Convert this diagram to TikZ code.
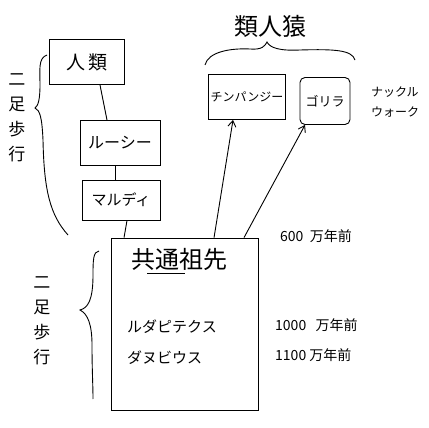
\documentclass[tikz,border=0pt]{standalone}
\usepackage{fontspec}
\setmainfont{Noto Sans CJK JP}
\usetikzlibrary{arrows.meta,calc}
\tikzset{
  box/.style={draw,line width=0.9pt,inner sep=2pt},
  link/.style={line width=0.9pt},
  arr/.style={line width=0.9pt,-{Straight Barb[length=6pt,width=8pt]}},
  brace/.style={line width=0.9pt},
  vtext/.style={align=center,font=\fontsize{17}{25}\selectfont,inner sep=0pt},
  note/.style={font=\fontsize{14}{17}\selectfont,inner sep=0pt,anchor=west}
}
\begin{document}
\begin{tikzpicture}[x=1pt,y=-1pt]
\useasboundingbox (0,0) rectangle (429,428);
% human line
\node[box,minimum width=75pt,minimum height=45pt,font=\fontsize{19}{19}\selectfont] (jinrui) at (87,62) {人\,類};
\node[box,minimum width=80pt,minimum height=45pt,font=\fontsize{16}{16}\selectfont] (lucy) at (120,143) {ルーシー};
\node[box,minimum width=78pt,minimum height=40pt,font=\fontsize{15}{15}\selectfont] (ardi) at (121,200) {マルディ};
\node[box,minimum width=147pt,minimum height=172pt] (kyotsu) at (185,324) {};
\node[inner sep=0pt,font=\fontsize{24}{24}\selectfont] (title) at (179,259) {共通祖先};
\coordinate (ulA) at (147,273);
\coordinate (ulB) at (185,273);
\draw[link] (ulA) -- (ulB);
\node[inner sep=0pt,anchor=west,font=\fontsize{15}{15}\selectfont] (ruda) at (127,327) {ルダピテクス};
\node[inner sep=0pt,anchor=west,font=\fontsize{15}{15}\selectfont] (danu) at (127,358) {ダヌビウス};
% apes
\node[inner sep=0pt,font=\fontsize{24}{24}\selectfont] (ruijinen) at (270,26) {類人猿};
\node[box,minimum width=75pt,minimum height=45pt,font=\fontsize{12}{12}\selectfont] (chimp) at (247,97) {チンパンジー};
\node[box,rounded corners=5pt,minimum width=50pt,minimum height=47pt,font=\fontsize{13}{13}\selectfont] (gorilla) at (325,101) {ゴリラ};
\node[align=left,inner sep=0pt,font=\fontsize{12}{20}\selectfont] (knuckle) at (395,102) {ナックル\\ウォーク};
% ages
\node[note] (m600) at (280,236) {600\ \ 万年前};
\node[note] (m1000) at (275,325) {1000\ \ \ 万年前};
\node[note] (m1100) at (275,355) {1100\ 万年前};
% bipedal labels
\node[vtext] (bip1) at (17,118) {二\\足\\歩\\行};
\node[vtext] (bip2) at (42,321) {二\\足\\歩\\行};
% connectors
\draw[link] ([xshift=13pt]jinrui.south) -- ([xshift=-13pt]lucy.north);
\draw[link] ([xshift=-5pt]lucy.south) -- ([xshift=-6pt]ardi.north);
\draw[link] ([xshift=6pt]ardi.south) -- ([xshift=13pt]kyotsu.north west);
\draw[arr] ([xshift=103pt]kyotsu.north west) -- ([xshift=-14pt]chimp.south);
\draw[arr] ([xshift=133pt]kyotsu.north west) -- ([xshift=-20pt]gorilla.south);
% braces
\coordinate (b1a) at (47,55);
\coordinate (b1t) at (35,108);
\coordinate (b1b) at (68,235);
\draw[brace] (b1a) .. controls (38,58) and (40,70) .. (40,85)
  .. controls (40,100) and (38,106) .. (b1t)
  .. controls (40,110) and (42,118) .. (43,140)
  .. controls (44,190) and (50,215) .. (b1b);
\coordinate (b2a) at (99,251);
\coordinate (b2t) at (80,310);
\coordinate (b2b) at (93,399);
\draw[brace] (b2a) .. controls (93,251) and (93,262) .. (93,275)
  .. controls (93,300) and (88,308) .. (b2t)
  .. controls (88,314) and (92,325) .. (92,345)
  .. controls (92,370) and (93,385) .. (b2b);
\coordinate (b3a) at (205,65);
\coordinate (b3t) at (267,42);
\coordinate (b3b) at (355,60);
\draw[brace] (b3a) .. controls (208,52) and (230,48) .. (250,49)
  .. controls (262,50) and (265,46) .. (b3t)
  .. controls (270,48) and (280,51) .. (300,50)
  .. controls (335,49) and (352,50) .. (b3b);
\end{tikzpicture}
\end{document}
